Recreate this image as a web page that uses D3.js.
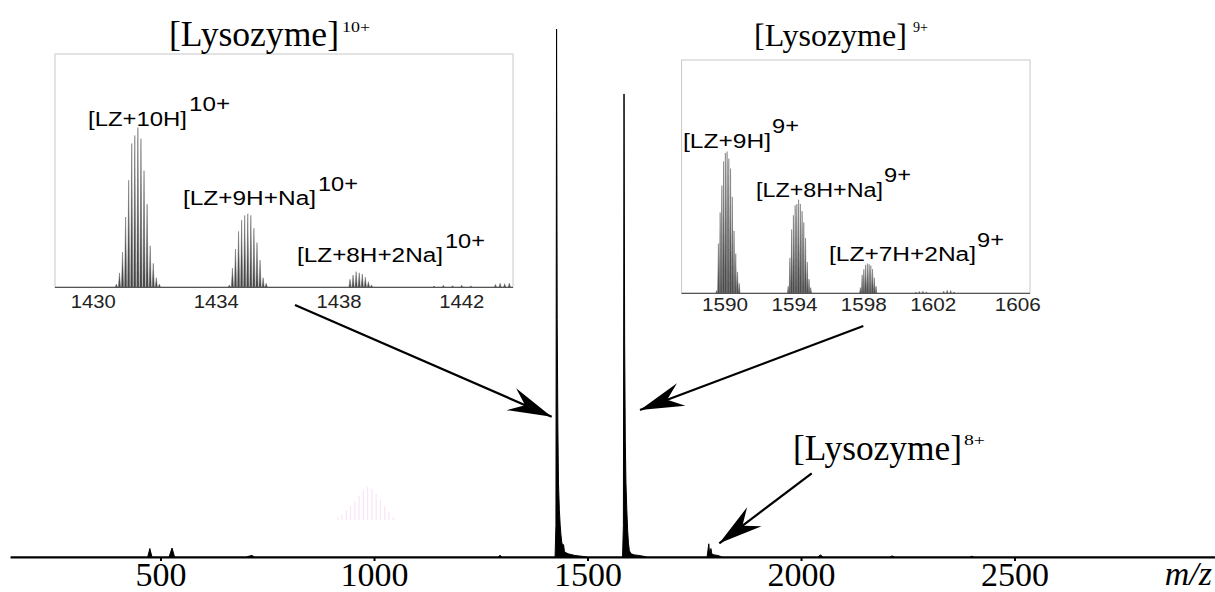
<!DOCTYPE html>
<html>
<head>
<meta charset="utf-8">
<script src="https://cdn.jsdelivr.net/npm/d3@7"></script>
<style>
  body { margin: 0; background: #fff; }
  svg { display: block; }
</style>
</head>
<body>
<div id="chart"></div>
<script>
// ---- data ----
// main spectrum, relative intensity (10+ peak = 100)
var mainMz  = [150, 470, 475, 480, 520, 527, 533, 700, 714, 720, 1290, 1295, 1300, 1424, 1426, 1427.5, 1429, 1430.5, 1432, 1434, 1436, 1438, 1440, 1442, 1444, 1446, 1450, 1455, 1460, 1470, 1480, 1500, 1582, 1584, 1585.5, 1587, 1588.5, 1590, 1592, 1594, 1596, 1598, 1602, 1610, 1620, 1640, 1780, 1784, 1786, 1789, 1791, 1796, 1805, 1815, 2040, 2045, 2052, 2208, 2213, 2220, 2395, 2400, 2405, 2969];
var mainInt = [0, 0, 1.6, 0, 0, 1.7, 0, 0, 0.3, 0, 0, 0.3, 0, 0, 6, 100, 45, 25, 14, 9, 6, 4, 2.6, 2.4, 2.3, 1, 0.8, 0.6, 0.5, 0.3, 0.2, 0, 0, 6, 87.7, 40, 22, 14, 9, 5, 2.5, 1.2, 0.6, 0.4, 0.3, 0, 0, 2.5, 0.5, 1.6, 0.6, 0.4, 0.3, 0, 0, 0.4, 0, 0, 0.2, 0, 0, 0.15, 0, 0];
var mainTicks = [500, 1000, 1500, 2000, 2500];

// faint pink ghost cluster near m/z 1000 (artifact in the figure)
var ghostMz  = [915, 925, 935, 945, 955, 965, 975, 985, 995, 1005, 1015, 1025, 1035, 1045];
var ghostInt = [0.5, 1, 1.8, 2.6, 3.5, 4.6, 5.6, 6.3, 5.9, 5, 3.8, 2.6, 1.5, 0.6];

// inset 1 : [Lysozyme]10+
var lz10Mz   = [1430.75, 1430.85, 1430.95, 1431.05, 1431.15, 1431.25, 1431.35, 1431.45, 1431.55, 1431.65, 1431.75, 1431.85, 1431.95, 1432.05, 1432.15];
var lz10Int  = [2, 9, 22, 44, 67, 90, 95, 100, 93, 73, 52, 26, 15, 6, 2];
var lz10NaMz  = [1434.43, 1434.53, 1434.63, 1434.73, 1434.83, 1434.93, 1435.03, 1435.13, 1435.23, 1435.33, 1435.43, 1435.53, 1435.63];
var lz10NaInt = [1.5, 12, 24, 35, 42, 45, 46, 45, 37, 28, 17, 6, 2.5];
var lz10Na2Mz  = [1438.36, 1438.46, 1438.56, 1438.66, 1438.76, 1438.86, 1438.96, 1439.06];
var lz10Na2Int = [5, 7.7, 9.8, 9.1, 8.3, 6.3, 3.5, 1.5];
var lz10NoiseMz  = [1441.1, 1441.4, 1441.7, 1442.0, 1442.3, 1443.1, 1443.25, 1443.4, 1443.55];
var lz10NoiseInt = [0.8, 1.2, 1, 1.3, 0.9, 1.8, 2.5, 2.2, 2.6];
var inset1Ticks = [1430, 1434, 1438, 1442];

// inset 2 : [Lysozyme]9+
var lz9Mz  = [1589.52, 1589.62, 1589.72, 1589.82, 1589.92, 1590.02, 1590.12, 1590.22, 1590.32, 1590.42, 1590.52, 1590.62, 1590.72, 1590.82];
var lz9Int = [2, 35, 57, 76, 93, 99, 100, 95, 88, 68, 44, 28, 15, 7];
var lz9NaMz  = [1593.64, 1593.74, 1593.84, 1593.94, 1594.04, 1594.14, 1594.24, 1594.34, 1594.44, 1594.54, 1594.64, 1594.74, 1594.84, 1594.94];
var lz9NaInt = [5, 25, 45, 55, 62, 63, 66, 63, 58, 50, 39, 22, 10, 4];
var lz9Na2Mz  = [1597.80, 1597.90, 1598.00, 1598.10, 1598.20, 1598.30, 1598.40, 1598.50, 1598.60, 1598.70];
var lz9Na2Int = [4, 13, 17, 20, 21, 20.5, 19.5, 17, 11, 5];
var lz9NoiseMz  = [1601.0, 1601.2, 1601.4, 1601.6, 1602.6, 1602.8, 1603.0, 1603.2];
var lz9NoiseInt = [0.8, 1.3, 1.5, 1, 1.5, 2.2, 2, 1];
var inset2Ticks = [1590, 1594, 1598, 1602, 1606];

var W = 1215, H = 592;
var serif = "'Liberation Serif', 'Times New Roman', serif";
var sans = "'Liberation Sans', Arial, sans-serif";

var svg = d3.select("#chart").append("svg")
    .attr("width", W)
    .attr("height", H);

// arrow head marker (barbed)
svg.append("defs").append("marker")
    .attr("id", "head")
    .attr("markerUnits", "userSpaceOnUse")
    .attr("viewBox", "-46 -14 48 28")
    .attr("refX", 0).attr("refY", 0)
    .attr("markerWidth", 48).attr("markerHeight", 28)
    .attr("orient", "auto")
    .append("path")
    .attr("d", "M0,0 L-44,-12 L-29,0 L-44,12 Z")
    .attr("fill", "#000");

function txt(g, x, y, s, size, family, width) {
    var t = g.append("text")
        .attr("x", x).attr("y", y)
        .attr("font-family", family)
        .attr("font-size", size)
        .attr("fill", "#000")
        .text(s);
    if (width) t.attr("textLength", width).attr("lengthAdjust", "spacingAndGlyphs");
    return t;
}

// ---------------- main spectrum ----------------
var x = d3.scaleLinear().domain([147.5, 2969.5]).range([10, 1215]);
var y = d3.scaleLinear().domain([0, 100]).range([557, 29]);

var mainData = mainMz.map(function (d, i) { return [d, mainInt[i]]; });

// ghost
svg.append("g").selectAll("line")
    .data(ghostMz)
    .enter().append("line")
    .attr("x1", function (d) { return x(d); })
    .attr("x2", function (d) { return x(d); })
    .attr("y1", y(7))
    .attr("y2", function (d, i) { return y(7 + ghostInt[i]); })
    .attr("stroke", "#fae4f7")
    .attr("stroke-width", 1.2);

var area = d3.area()
    .x(function (d) { return x(d[0]); })
    .y0(y(0))
    .y1(function (d) { return y(d[1]); });
var line = d3.line()
    .x(function (d) { return x(d[0]); })
    .y(function (d) { return y(d[1]); });

svg.append("path").datum(mainData)
    .attr("d", area)
    .attr("fill", "#000");
svg.append("path").datum(mainData)
    .attr("d", line)
    .attr("fill", "none")
    .attr("stroke", "#000")
    .attr("stroke-width", 1);

var xAxis = svg.append("g")
    .attr("transform", "translate(0," + y(0) + ")")
    .call(d3.axisBottom(x).tickValues(mainTicks).tickSize(4).tickSizeOuter(0).tickPadding(1).tickFormat(d3.format("d")));
xAxis.select(".domain").attr("stroke-width", 2);
xAxis.selectAll(".tick line").attr("stroke-width", 2);
xAxis.selectAll("text")
    .attr("font-family", serif)
    .attr("font-size", 34)
    .attr("fill", "#000");

svg.append("text")
    .attr("x", 1212).attr("y", 585)
    .attr("text-anchor", "end")
    .attr("font-family", serif)
    .attr("font-style", "italic")
    .attr("font-size", 34)
    .text("m/z");

// ---------------- insets ----------------
function drawInset(o) {
    var g = svg.append("g");
    var xs = d3.scaleLinear().domain(o.xDomain).range([o.left, o.right]);
    var ys = d3.scaleLinear().domain([0, o.yMax]).range([o.bottom, o.top]);

    g.append("rect")
        .attr("x", o.left).attr("y", o.top)
        .attr("width", o.right - o.left).attr("height", o.bottom - o.top)
        .attr("fill", "#fff")
        .attr("stroke", "#c8c8c8")
        .attr("stroke-width", 1);

    var hw = o.halfWidth;
    o.clusters.forEach(function (c) {
        var pts = c.mz.map(function (m, i) { return [m, c.int[i]]; });
        g.append("g").selectAll("path")
            .data(pts)
            .enter().append("path")
            .attr("d", function (d) {
                return "M" + xs(d[0] - hw) + "," + ys(0) +
                    "L" + xs(d[0]) + "," + ys(d[1]) +
                    "L" + xs(d[0] + hw) + "," + ys(0) + "Z";
            })
            .attr("fill", "#444")
            .attr("stroke", "#666")
            .attr("stroke-width", 0.5);
    });

    // baseline
    g.append("line")
        .attr("x1", o.left).attr("x2", o.right)
        .attr("y1", o.bottom).attr("y2", o.bottom)
        .attr("stroke", "#555")
        .attr("stroke-width", 1.2);

    g.selectAll(".tl")
        .data(o.ticks)
        .enter().append("text")
        .attr("class", "tl")
        .attr("x", function (d, i) { return xs(d) + (o.tickShift[i] || 0); })
        .attr("y", o.tickY)
        .attr("text-anchor", "middle")
        .attr("font-family", sans)
        .attr("font-size", 19)
        .attr("fill", "#222")
        .attr("textLength", o.tickW)
        .attr("lengthAdjust", "spacingAndGlyphs")
        .text(function (d) { return d; });

    o.labels.forEach(function (l) {
        txt(g, l.x, l.y, l.main, 20, sans, l.mw);
        txt(g, l.sx, l.sy, l.sup, 20, sans, l.sw);
    });
}

drawInset({
    left: 55, right: 513, top: 54, bottom: 287.3,
    xDomain: [1428.75, 1443.67], yMax: 146, halfWidth: 0.035,
    clusters: [
        { mz: lz10Mz, int: lz10Int },
        { mz: lz10NaMz, int: lz10NaInt },
        { mz: lz10Na2Mz, int: lz10Na2Int },
        { mz: lz10NoiseMz, int: lz10NoiseInt }
    ],
    ticks: inset1Ticks, tickY: 308, tickW: 45, tickShift: [],
    labels: [
        { main: "[LZ+10H]", x: 88, y: 126, mw: 99, sup: "10+", sx: 189, sy: 111, sw: 41 },
        { main: "[LZ+9H+Na]", x: 183, y: 205, mw: 133, sup: "10+", sx: 318, sy: 191, sw: 40 },
        { main: "[LZ+8H+2Na]", x: 297, y: 262, mw: 146, sup: "10+", sx: 445, sy: 248, sw: 40 }
    ]
});

drawInset({
    left: 681.6, right: 1030, top: 60, bottom: 293.3,
    xDomain: [1587.5, 1607.57], yMax: 164.6, halfWidth: 0.045,
    clusters: [
        { mz: lz9Mz, int: lz9Int },
        { mz: lz9NaMz, int: lz9NaInt },
        { mz: lz9Na2Mz, int: lz9Na2Int },
        { mz: lz9NoiseMz, int: lz9NoiseInt }
    ],
    ticks: inset2Ticks, tickY: 311, tickW: 46, tickShift: [0, 0, 0, 0, 15],
    labels: [
        { main: "[LZ+9H]", x: 683, y: 148, mw: 88, sup: "9+", sx: 772, sy: 133, sw: 27 },
        { main: "[LZ+8H+Na]", x: 756, y: 197, mw: 127, sup: "9+", sx: 884, sy: 182, sw: 27 },
        { main: "[LZ+7H+2Na]", x: 829, y: 261, mw: 147, sup: "9+", sx: 977, sy: 247, sw: 27 }
    ]
});

// ---------------- titles ----------------
txt(svg, 169, 46, "[Lysozyme]", 35, serif, 170);
txt(svg, 342, 32, "10+", 15, serif, 28);
txt(svg, 754, 46, "[Lysozyme]", 32, serif);
txt(svg, 913, 32, "9+", 15, serif, 15);
txt(svg, 793, 460, "[Lysozyme]", 35, serif, 169);
txt(svg, 964, 445, "8+", 15, serif, 21);

// ---------------- arrows ----------------
var arrows = [
    [[295, 305], [551.7, 416.7]],
    [[863.3, 326], [640, 410]],
    [[811.7, 473.3], [719.3, 543.3]]
];
svg.append("g").selectAll("line")
    .data(arrows)
    .enter().append("line")
    .attr("x1", function (d) { return d[0][0]; })
    .attr("y1", function (d) { return d[0][1]; })
    .attr("x2", function (d) { return d[1][0]; })
    .attr("y2", function (d) { return d[1][1]; })
    .attr("stroke", "#000")
    .attr("stroke-width", 2.2)
    .attr("marker-end", "url(#head)");
</script>
</body>
</html>
